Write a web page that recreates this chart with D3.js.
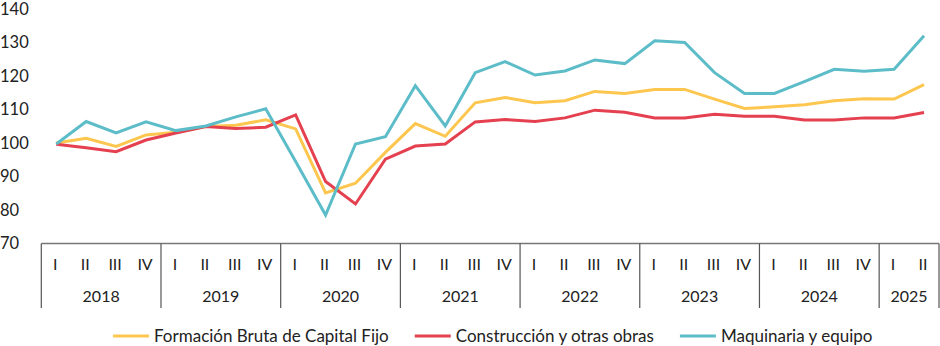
<!DOCTYPE html>
<html>
<head>
<meta charset="utf-8">
<script src="https://cdn.jsdelivr.net/npm/d3@7"></script>
<style>
  body { margin: 0; background: #fff; }
  svg { display: block; font-family: Lato, "Open Sans", sans-serif; }
</style>
</head>
<body>
<svg id="chart"></svg>
<script>
// quarters and years
const years = ["2018", "2019", "2020", "2021", "2022", "2023", "2024", "2025"];
const quarterNames = ["I", "II", "III", "IV"];
const yTicks = [70, 80, 90, 100, 110, 120, 130, 140];

// index values, 2018 I = 100
const fbcf = [100, 101.4, 99.0, 102.4, 103.2, 104.9, 105.3, 106.9, 104.2, 85.1, 88.0, 97.2,
  105.8, 102.0, 112.0, 113.6, 112.0, 112.6, 115.4, 114.8, 116.0, 116.0, 113.1, 110.3,
  110.8, 111.4, 112.6, 113.2, 113.1, 117.4];
const construccion = [99.6, 98.6, 97.4, 100.9, 103.0, 104.9, 104.3, 104.7, 108.4, 88.5, 81.8, 95.2,
  99.1, 99.7, 106.3, 107.0, 106.4, 107.5, 109.8, 109.2, 107.5, 107.5, 108.6, 108.0,
  108.0, 106.9, 106.9, 107.5, 107.5, 109.1];
const maquinaria = [99.7, 106.4, 103.0, 106.3, 103.7, 105.1, 107.8, 110.2, 94.5, 78.5, 99.7, 101.9,
  117.1, 105.1, 121.0, 124.3, 120.3, 121.5, 124.8, 123.7, 130.5, 130.0, 121.0, 114.8,
  114.8, 118.3, 122.0, 121.4, 122.0, 132.0];

const series = [
  { name: "Formación Bruta de Capital Fijo", values: fbcf, color: "#FDC64E" },
  { name: "Construcción y otras obras", values: construccion, color: "#E5404F" },
  { name: "Maquinaria y equipo", values: maquinaria, color: "#5CBDC9" }
];

// build quarter list (2025 only has I and II)
const quarters = [];
years.forEach(y => {
  const n = y === "2025" ? 2 : 4;
  for (let i = 0; i < n; i++) quarters.push({ key: y + "-" + quarterNames[i], year: y, q: quarterNames[i] });
});

const width = 940, height = 346;
const svg = d3.select("#chart").attr("width", width).attr("height", height);

const x = d3.scaleBand()
  .domain(quarters.map(d => d.key))
  .range([41.3, 939])
  .padding(0);

const y = d3.scaleLinear()
  .domain([70, 140])
  .range([243.5, 9]);

// y labels (no axis line)
svg.append("g")
  .selectAll("text")
  .data(yTicks)
  .join("text")
  .attr("x", 0)
  .attr("y", d => y(d))
  .attr("dy", "0.36em")
  .attr("font-size", 16.5)
  .attr("fill", "#222")
  .text(d => d);

// lines
const line = d3.line()
  .x((d, i) => x(quarters[i].key) + x.bandwidth() / 2)
  .y(d => y(d));

svg.append("g")
  .selectAll("path")
  .data(series)
  .join("path")
  .attr("fill", "none")
  .attr("stroke", d => d.color)
  .attr("stroke-width", 3)
  .attr("stroke-linejoin", "miter")
  .attr("d", d => line(d.values));

// category axis
const axisY = y(70);
const axis = svg.append("g");
axis.append("line")
  .attr("x1", x.range()[0]).attr("x2", x.range()[1])
  .attr("y1", axisY).attr("y2", axisY)
  .attr("stroke", "#777").attr("stroke-width", 1.5);

// separators at year boundaries
const yearGroups = years.map(yr => {
  const qs = quarters.filter(d => d.year === yr);
  return { year: yr, x0: x(qs[0].key), x1: x(qs[qs.length - 1].key) + x.bandwidth() };
});
const sepX = [yearGroups[0].x0].concat(yearGroups.map(d => d.x1));
axis.selectAll("line.sep")
  .data(sepX)
  .join("line")
  .attr("class", "sep")
  .attr("x1", d => d).attr("x2", d => d)
  .attr("y1", axisY).attr("y2", 308)
  .attr("stroke", "#555").attr("stroke-width", 1.2);

axis.selectAll("text.q")
  .data(quarters)
  .join("text")
  .attr("class", "q")
  .attr("x", d => x(d.key) + x.bandwidth() / 2 - 1)
  .attr("y", 264)
  .attr("dy", "0.36em")
  .attr("text-anchor", "middle")
  .attr("font-size", 16)
  .attr("fill", "#222")
  .text(d => d.q);

axis.selectAll("text.yr")
  .data(yearGroups)
  .join("text")
  .attr("class", "yr")
  .attr("x", d => (d.x0 + d.x1) / 2)
  .attr("y", 296)
  .attr("dy", "0.36em")
  .attr("text-anchor", "middle")
  .attr("font-size", 16)
  .attr("fill", "#222")
  .text(d => d.year);

// legend
const legend = svg.append("g").attr("transform", "translate(113, 336)");
let lx = 0;
series.forEach(s => {
  legend.append("line")
    .attr("x1", lx).attr("x2", lx + 36)
    .attr("y1", 0).attr("y2", 0)
    .attr("stroke", s.color).attr("stroke-width", 3);
  const t = legend.append("text")
    .attr("x", lx + 41)
    .attr("y", 0)
    .attr("dy", "0.36em")
    .attr("font-size", 17)
    .attr("fill", "#222")
    .text(s.name);
  lx += 41 + t.node().getComputedTextLength() + 26;
});
</script>
</body>
</html>
